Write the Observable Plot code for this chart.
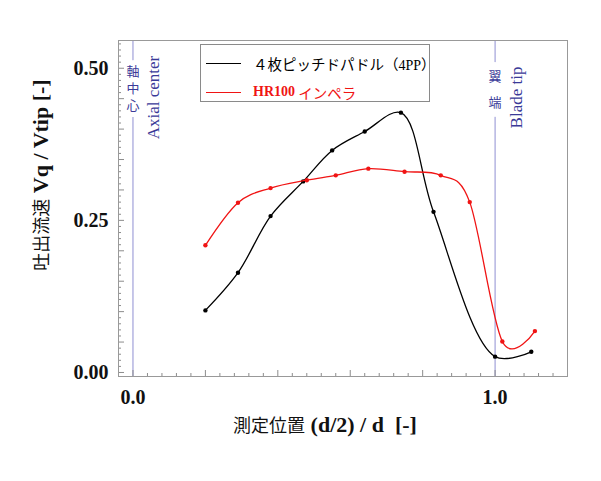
<!DOCTYPE html>
<html>
<head>
<meta charset="utf-8">
<script src="https://cdn.jsdelivr.net/npm/d3@7"></script>
<script src="https://cdn.jsdelivr.net/npm/@observablehq/plot@0.6"></script>
<style>
  html, body { margin: 0; padding: 0; background: #fff; }
  #wrap { position: relative; width: 601px; height: 481px; }
  #legend { position: absolute; left: 200px; top: 44px; width: 230px; height: 58px;
    border: 1px solid #8a8a8a; background: #fff; box-sizing: border-box; }
  .li { position: absolute; left: 0; height: 20px; display: flex; align-items: center; white-space: nowrap; }
  .sw { display: inline-block; width: 35px; height: 0; border-top: 1.2px solid; margin-left: 5px; margin-right: 12px; }
  .jp { font-family: "Noto Sans CJK JP", sans-serif; font-size: 14.5px; }
  .ser { font-family: "Liberation Serif", serif; font-size: 14px; }
</style>
</head>
<body>
<div id="wrap">
  <div id="chart"></div>
  <div id="legend">
    <div class="li" style="top:8px;color:#000"><span class="sw" style="border-color:#000"></span><span class="jp">４枚ピッチドパドル（<span class="ser">4PP</span>）</span></div>
    <div class="li" style="top:37px;color:#f01414"><span class="sw" style="border-color:#f01414"></span><span class="ser" style="font-weight:bold">HR100</span><span class="jp">&nbsp;インペラ</span></div>
  </div>
</div>
<script>
// Series: 4-blade pitched paddle (4PP)
const xPP = [0.20, 0.29, 0.38, 0.47, 0.55, 0.64, 0.74, 0.83, 1.00, 1.10];
const yPP = [0.102, 0.164, 0.257, 0.314, 0.365, 0.396, 0.427, 0.264, 0.026, 0.034];
// Series: HR100 impeller
const xHR = [0.20, 0.29, 0.38, 0.48, 0.56, 0.65, 0.75, 0.85, 0.93, 1.02, 1.11];
const yHR = [0.209, 0.279, 0.303, 0.316, 0.324, 0.335, 0.330, 0.324, 0.280, 0.051, 0.068];
// Tick labels
const xTickLabels = [0.0, 1.0];
const yTickLabels = [0.00, 0.25, 0.50];
// Reference lines and their labels
const guideX = [0, 1];
const guideJp = ["軸\n中\n心", "翼\n端"];
const guideEn = ["Axial center", "Blade tip"];

const pp = xPP.map((x, i) => ({x, y: yPP[i]}));
const hr = xHR.map((x, i) => ({x, y: yHR[i]}));
const guides = guideX.map((x, i) => ({x, jp: guideJp[i], en: guideEn[i]}));

const r2 = v => Math.round(v * 100) / 100;
const yMinor = d3.range(0, 55).map(i => r2(i * 0.01));
const yShort = yMinor.filter(v => Math.round(v * 100) % 5 !== 0);
const yLong = yMinor.filter(v => Math.round(v * 100) % 5 === 0);
const xMinor = d3.range(0, 30).map(i => r2(i * 0.04));
const xShort = xMinor.filter(v => Math.round(v * 100) % 20 !== 0);
const xLong = xMinor.filter(v => Math.round(v * 100) % 20 === 0);

const RED = "#f01414";
const BLUE_LINE = "#8f8fd2";
const BLUE_TXT = "#3a3a98";
const GRAY = "#8c8c8c";
const blank = () => "";
const jpStyle = {x: "x", text: "jp", frameAnchor: "top", fill: BLUE_TXT, fontSize: 13,
  fontFamily: "Noto Sans CJK JP", stroke: "#fff", paintOrder: "stroke",
  lineAnchor: "middle", textAnchor: "middle"};

const plot = Plot.plot({
  width: 601,
  height: 481,
  marginLeft: 118,
  marginRight: 34,
  marginTop: 40,
  marginBottom: 105,
  style: {background: "#fff", overflow: "visible"},
  x: {domain: [-0.04, 1.2]},
  y: {domain: [-0.0066, 0.5456]},
  marks: [
    Plot.ruleX(guides, {x: "x", stroke: BLUE_LINE, strokeWidth: 1}),
    Plot.text(guides.slice(0, 1), {...jpStyle, dy: 47, lineHeight: 1.3, strokeWidth: 10}),
    Plot.text(guides.slice(1, 2), {...jpStyle, dy: 45, lineHeight: 2.0, strokeWidth: 16}),
    Plot.text(guides, {x: "x", text: "en", frameAnchor: "top", dy: 57, dx: 21, rotate: -90,
      fill: BLUE_TXT, fontSize: 17, fontFamily: "Liberation Serif", lineAnchor: "middle", textAnchor: "middle"}),
    Plot.line(pp, {x: "x", y: "y", curve: "catmull-rom", stroke: "#000", strokeWidth: 1.3}),
    Plot.dot(pp, {x: "x", y: "y", r: 2.2, fill: "#000"}),
    Plot.line(hr, {x: "x", y: "y", curve: "catmull-rom", tension: 0, stroke: RED, strokeWidth: 1.3}),
    Plot.dot(hr, {x: "x", y: "y", r: 2.2, fill: RED}),
    Plot.axisY(yShort, {anchor: "left", tickSize: 3, dx: 3, tickFormat: blank, stroke: GRAY, label: null}),
    Plot.axisY(yLong, {anchor: "left", tickSize: 6, dx: 6, tickFormat: blank, stroke: GRAY, label: null}),
    Plot.axisY(yTickLabels, {anchor: "left", tickSize: 0, tickPadding: 10, tickFormat: d3.format(".2f"),
      fontSize: 20, fontWeight: "bold", fontFamily: "Liberation Serif", fill: "#111", label: null}),
    Plot.axisX(xShort, {anchor: "bottom", tickSize: 3, dy: -3, tickFormat: blank, stroke: GRAY, label: null}),
    Plot.axisX(xLong, {anchor: "bottom", tickSize: 6, dy: -6, tickFormat: blank, stroke: GRAY, label: null}),
    Plot.axisX(xTickLabels, {anchor: "bottom", tickSize: 0, tickPadding: 13, tickFormat: d3.format(".1f"),
      fontSize: 20, fontWeight: "bold", fontFamily: "Liberation Serif", fill: "#111", label: null}),
    Plot.frame({stroke: "#999", strokeWidth: 1})
  ]
});
document.getElementById("chart").appendChild(plot);

const svg = d3.select(plot);

// axis titles (mixed fonts)
const yl = svg.append("text")
  .attr("transform", "translate(40,175) rotate(-90)")
  .attr("text-anchor", "middle").attr("dominant-baseline", "central").attr("fill", "#111");
yl.append("tspan").attr("font-family", "Noto Sans CJK JP").attr("font-size", 18).text("吐出流速");
yl.append("tspan").attr("font-family", "Liberation Serif").attr("font-weight", "bold").attr("font-size", 22).text("\u00a0Vq / Vtip [-]");

const xl = svg.append("text")
  .attr("transform", "translate(325,424)")
  .attr("text-anchor", "middle").attr("dominant-baseline", "central").attr("fill", "#111");
xl.append("tspan").attr("font-family", "Noto Sans CJK JP").attr("font-size", 18).text("測定位置");
xl.append("tspan").attr("font-family", "Liberation Serif").attr("font-weight", "bold").attr("font-size", 22).text("\u00a0(d/2) / d \u00a0[-]");
</script>
</body>
</html>
